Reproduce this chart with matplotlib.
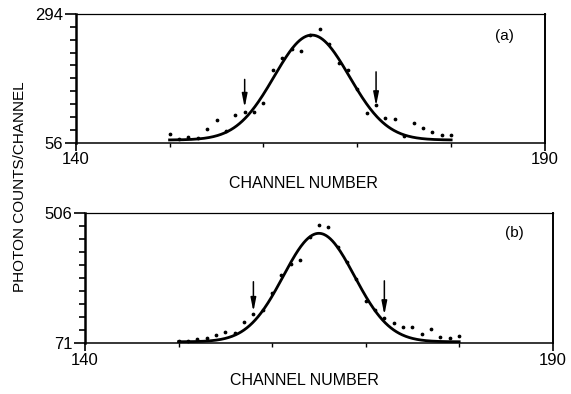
import numpy as np
import matplotlib
matplotlib.use("Agg")
import matplotlib.pyplot as plt
from matplotlib.ticker import FixedLocator

plt.rcParams['font.family'] = ['Liberation Sans', 'DejaVu Sans']

# Channel numbers for both spectra
channels = list(range(150, 181))

# (a) photon counts per channel
counts_a = [73, 62, 67, 64, 81, 98, 78, 107, 113, 113, 130, 190, 213, 230, 226,
            255, 267, 238, 203, 190, 156, 111, 126, 101, 100, 69, 92, 83, 76, 70, 71]
# (b) photon counts per channel
counts_b = [77, 78, 84, 88, 99, 110, 107, 141, 169, 182, 240, 298, 337, 349, 427,
            468, 461, 392, 342, 285, 213, 183, 157, 140, 127, 127, 102, 118, 93, 88, 95]

# Gaussian fit parameters: centre, width, amplitude, background
fit_a = dict(mu=165.15, sigma=4.0, amp=194.0, base=61.0)
fit_b = dict(mu=165.0, sigma=3.8, amp=363.0, base=76.0)

# Marked channels and arrow extents (tail, tip) in counts
arrow_channels = [158, 172]
arrows_a = [(173, 121), (187, 124)]
arrows_b = [(277, 177), (280, 166)]

x_range = (140, 190)
y_range_a = (56, 294)
y_range_b = (71, 506)
panel_labels = ["(a)", "(b)"]


def gaussian(x, mu, sigma, amp, base):
    return base + amp * np.exp(-(x - mu) ** 2 / (2 * sigma ** 2))


fig = plt.figure(figsize=(5.71, 3.94), dpi=100)
ax_a = fig.add_axes([0.1326, 0.6378, 0.8219, 0.3267])
ax_b = fig.add_axes([0.1489, 0.1287, 0.8191, 0.3299])

panels = [
    (ax_a, counts_a, fit_a, arrows_a, y_range_a, panel_labels[0], (0.913, 0.83), (0.531, 0.533)),
    (ax_b, counts_b, fit_b, arrows_b, y_range_b, panel_labels[1], (0.919, 0.848), (0.534, 0.034)),
]

for ax, counts, fit, arrows, yr, lab, labpos, xlabpos in panels:
    xs = np.linspace(channels[0], channels[-1], 400)
    ax.plot(xs, gaussian(xs, **fit), color='black', lw=2.0, zorder=3)
    ax.plot(channels, counts, linestyle='none', marker='o', ms=1.7,
            color='black', zorder=4)
    for ch, (tail, tip) in zip(arrow_channels, arrows):
        ax.annotate('', xy=(ch, tip), xytext=(ch, tail),
                    arrowprops=dict(arrowstyle='-|>,head_length=0.8,head_width=0.16',
                                    color='black', lw=1.1, shrinkA=0, shrinkB=0))
    ax.set_xlim(*x_range)
    ax.set_ylim(*yr)

    # axis ticks: labelled ends, unlabelled interior marks
    ax.set_xticks(list(x_range))
    ax.set_xticklabels([str(v) for v in x_range])
    ax.xaxis.set_minor_locator(FixedLocator([150, 160, 170, 180]))
    ax.set_yticks(list(yr))
    ax.set_yticklabels([str(v) for v in yr])
    ax.yaxis.set_minor_locator(FixedLocator(np.linspace(yr[0], yr[1], 11)[1:-1]))

    ax.tick_params(axis='x', which='major', direction='out', length=6, width=1.2,
                   labelsize=12, pad=1)
    ax.tick_params(axis='x', which='minor', direction='out', length=3, width=1.0)
    ax.tick_params(axis='y', which='major', direction='out', length=8, width=1.2,
                   labelsize=12, pad=1)
    ax.tick_params(axis='y', which='minor', direction='out', length=4, width=1.2)

    ax.spines['left'].set_linewidth(1.8)
    ax.spines['right'].set_linewidth(1.4)
    ax.spines['top'].set_linewidth(0.9)
    ax.spines['bottom'].set_linewidth(1.1)

    ax.text(labpos[0], labpos[1], lab, transform=ax.transAxes, fontsize=11,
            ha='center', va='center')

    fig.text(xlabpos[0], xlabpos[1], "CHANNEL NUMBER", fontsize=11.5,
             ha='center', va='center')

fig.text(0.035, 0.525, "PHOTON COUNTS/CHANNEL", rotation=90, fontsize=11,
         ha='center', va='center')

fig.savefig("out.png", dpi=100)
